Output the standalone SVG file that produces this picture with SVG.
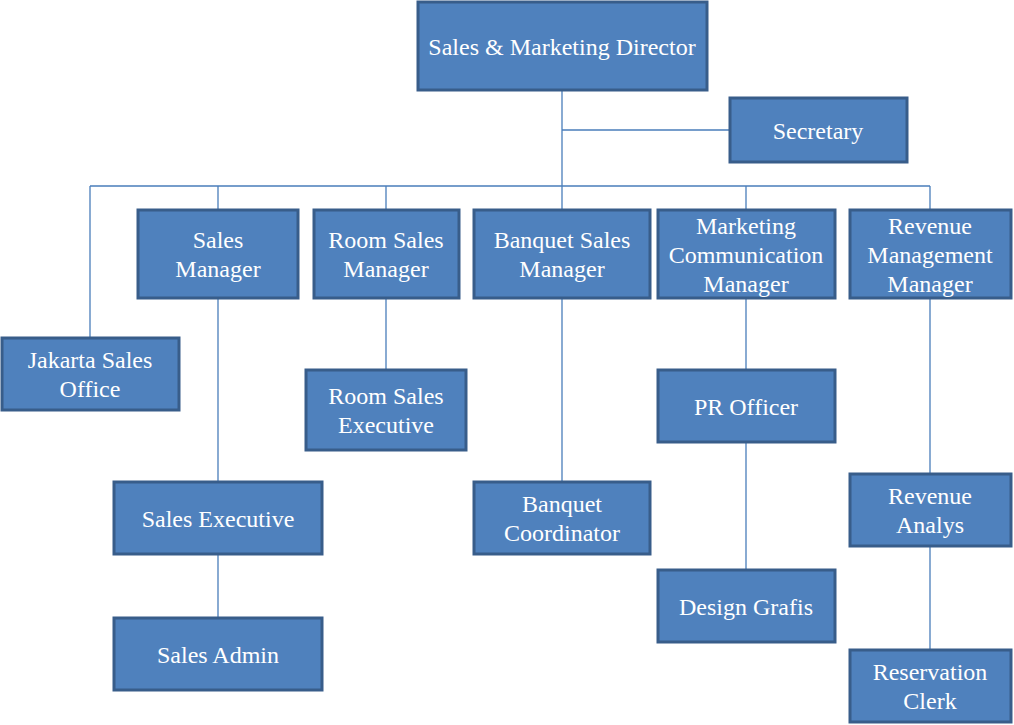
<svg xmlns="http://www.w3.org/2000/svg" width="1014" height="725" viewBox="0 0 1014 725">
<style>
.box{fill:#4F81BD;stroke:#385D8A;stroke-width:3}
.t{font-family:'Liberation Serif','Times New Roman',serif;font-size:24px;fill:#fff;text-anchor:middle;dominant-baseline:central}
.c{stroke:#4A7EBB;stroke-width:1.3;fill:none}
</style>
<rect width="1014" height="725" fill="#fff"/>
<g id="connectors">
<path class="c" d="M562,90V186M562,130H730M90,186H930M90,186V338M218,186V210M386,186V210M562,186V210M746,186V210M930,186V210"/>
<path class="c" d="M218,298V482M218,554V618M386,298V370M562,298V482M746,298V370M746,442V570M930,298V474M930,546V650"/>
</g>
<g id="director"><rect class="box" x="418" y="2" width="289" height="88"/><text class="t" x="562" y="47">Sales &amp; Marketing Director</text></g>
<g id="secretary"><rect class="box" x="730" y="98" width="177" height="64"/><text class="t" x="818" y="131">Secretary</text></g>
<g id="sales-manager"><rect class="box" x="138" y="210" width="160" height="88"/><text class="t" x="218" y="240">Sales</text><text class="t" x="218" y="269">Manager</text></g>
<g id="room-sales-manager"><rect class="box" x="314" y="210" width="145" height="88"/><text class="t" x="386" y="240">Room Sales</text><text class="t" x="386" y="269">Manager</text></g>
<g id="banquet-sales-manager"><rect class="box" x="474" y="210" width="176" height="88"/><text class="t" x="562" y="240">Banquet Sales</text><text class="t" x="562" y="269">Manager</text></g>
<g id="marcom-manager"><rect class="box" x="658" y="210" width="177" height="88"/><text class="t" x="746" y="226">Marketing</text><text class="t" x="746" y="255">Communication</text><text class="t" x="746" y="284">Manager</text></g>
<g id="revenue-manager"><rect class="box" x="850" y="210" width="161" height="88"/><text class="t" x="930" y="226">Revenue</text><text class="t" x="930" y="255">Management</text><text class="t" x="930" y="284">Manager</text></g>
<g id="jakarta-sales-office"><rect class="box" x="2" y="338" width="177" height="72"/><text class="t" x="90" y="360">Jakarta Sales</text><text class="t" x="90" y="389">Office</text></g>
<g id="room-sales-executive"><rect class="box" x="306" y="370" width="160" height="80"/><text class="t" x="386" y="396">Room Sales</text><text class="t" x="386" y="425">Executive</text></g>
<g id="pr-officer"><rect class="box" x="658" y="370" width="177" height="72"/><text class="t" x="746" y="407">PR Officer</text></g>
<g id="sales-executive"><rect class="box" x="114" y="482" width="208" height="72"/><text class="t" x="218" y="519">Sales Executive</text></g>
<g id="banquet-coordinator"><rect class="box" x="474" y="482" width="176" height="72"/><text class="t" x="562" y="504">Banquet</text><text class="t" x="562" y="533">Coordinator</text></g>
<g id="revenue-analys"><rect class="box" x="850" y="474" width="161" height="72"/><text class="t" x="930" y="496">Revenue</text><text class="t" x="930" y="525">Analys</text></g>
<g id="sales-admin"><rect class="box" x="114" y="618" width="208" height="72"/><text class="t" x="218" y="655">Sales Admin</text></g>
<g id="design-grafis"><rect class="box" x="658" y="570" width="177" height="72"/><text class="t" x="746" y="607">Design Grafis</text></g>
<g id="reservation-clerk"><rect class="box" x="850" y="650" width="161" height="72"/><text class="t" x="930" y="672">Reservation</text><text class="t" x="930" y="701">Clerk</text></g>
</svg>
